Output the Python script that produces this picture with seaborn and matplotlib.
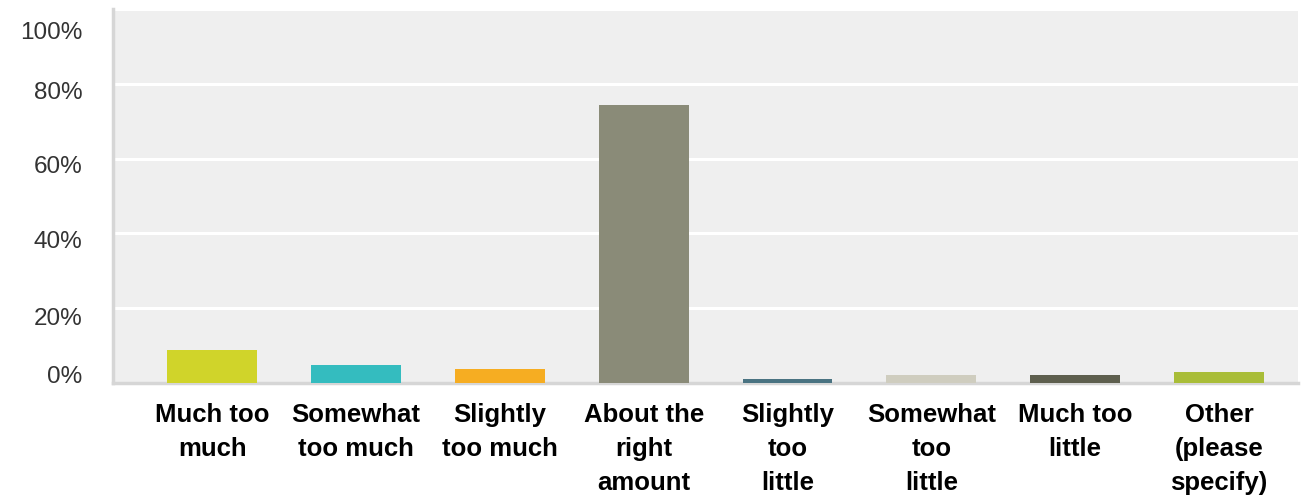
import matplotlib
matplotlib.use("Agg")
import matplotlib.pyplot as plt
import matplotlib.transforms as mtrans
import seaborn as sns
import pandas as pd
from matplotlib.ticker import FuncFormatter

categories = ["Much too\nmuch", "Somewhat\ntoo much", "Slightly\ntoo much", "About the\nright\namount",
              "Slightly\ntoo\nlittle", "Somewhat\ntoo\nlittle", "Much too\nlittle", "Other\n(please\nspecify)"]
values = [8.9, 4.9, 3.9, 74.4, 1.2, 2.1, 2.2, 3.0]
colors = ["#d0d42a", "#34bcbf", "#f6ad22", "#8a8b78", "#4a7382", "#cfcdbf", "#5e5f4e", "#a9bd38"]
yticks = [0, 20, 40, 60, 80, 100]

sns.set_style("white")
plt.rcParams['font.family'] = ['Liberation Sans', 'DejaVu Sans']

df = pd.DataFrame({"cat": categories, "val": values})

fig = plt.figure(figsize=(13.02, 4.97), dpi=100)
ax = fig.add_axes([0.0868, 0.229, 0.9102, 0.753])
ax.set_facecolor("#efefef")

sns.barplot(data=df, x="cat", y="val", hue="cat", palette=colors, legend=False,
            width=0.625, saturation=1, linewidth=0, ax=ax, zorder=3)

ax.set_ylim(0, 100)
ax.set_xlim(-0.69, 7.55)
ax.set_yticks(yticks)
ax.yaxis.set_major_formatter(FuncFormatter(lambda v, p: f"{int(v)}%"))
ax.grid(axis="y", color="white", linewidth=2.2, zorder=0)
ax.set_axisbelow(True)
ax.set_xlabel("")
ax.set_ylabel("")

for s in ["top", "right"]:
    ax.spines[s].set_visible(False)
ax.spines["left"].set_color("#d6d6d6")
ax.spines["left"].set_linewidth(2.5)
ax.spines["bottom"].set_color("#d6d6d6")
ax.spines["bottom"].set_linewidth(2.5)

ax.tick_params(axis="y", length=0, pad=22, labelsize=17.5, labelcolor="#333333")
ax.tick_params(axis="x", length=0, pad=14.5, labelsize=18.5, labelcolor="#000000")
for lab in ax.get_xticklabels():
    lab.set_fontweight("bold")
    lab.set_linespacing(1.53)
    lab.set_verticalalignment("top")

# reference shifts y tick labels downward (px) relative to their gridlines
shifts_px = [-9, 8, 6, 6, 7, 22]
for lab, dy in zip(ax.get_yticklabels(), shifts_px):
    lab.set_transform(lab.get_transform() + mtrans.ScaledTranslation(0, -dy / 100, fig.dpi_scale_trans))

fig.savefig("out.png", dpi=100, facecolor="white")
